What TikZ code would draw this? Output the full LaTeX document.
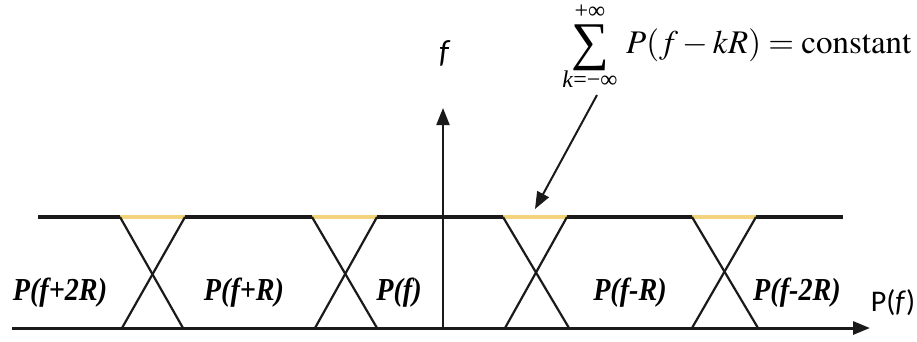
\documentclass[tikz,border=0pt]{standalone}
\usepackage{mathptmx}
\usepackage[no-math]{fontspec}
\setmainfont{Liberation Serif}
\newfontfamily\lblfont[FakeStretch=0.88]{Liberation Serif}
\newfontfamily\axfont{Carlito}
\usetikzlibrary{arrows.meta}
\definecolor{ylw}{HTML}{F3D47C}
\definecolor{ink}{HTML}{1A1A1A}
\tikzset{
  band/.style={line width=3.2pt, draw=ink},
  cross/.style={line width=2.2pt, draw=ink},
  hi/.style={line width=3.2pt, draw=ylw},
  axarrow/.style={line width=2pt, draw=ink, -{Triangle[length=17pt,width=13pt]}},
  plabel/.style={font=\lblfont\fontsize{32}{34}\selectfont\bfseries\itshape, inner sep=0pt, anchor=base},
  eqtext/.style={inner sep=0pt, font=\fontsize{33}{36}\selectfont},
  limtext/.style={inner sep=0pt, font=\fontsize{24}{26}\selectfont},
}
\begin{document}
\begin{tikzpicture}[x=1pt,y=-1pt]
\useasboundingbox (0,0) rectangle (917,341);
% band lines
\coordinate (tl) at (38,217);
\coordinate (tr) at (843,217);
\coordinate (bl) at (12,328);
\coordinate (br) at (870,328);
\draw[band] (tl) -- (tr);
% yellow overlaps and crosses
\foreach \a/\b/\c/\d [count=\i] in {120/185/122/183, 312/377/315/377, 503/567/505/569, 692/756/692/758}{
  \coordinate (ta\i) at (\a,217);
  \coordinate (tb\i) at (\b,217);
  \coordinate (ba\i) at (\c,328);
  \coordinate (bb\i) at (\d,328);
  \draw[hi] (ta\i) -- (tb\i);
  \draw[cross] (ta\i) -- (bb\i);
  \draw[cross] (tb\i) -- (ba\i);
}
\draw[axarrow, line width=3pt] (bl) -- (br);
% vertical axis
\coordinate (v0) at (443,328);
\coordinate (v1) at (443,108);
\draw[axarrow] (v0) -- (v1);
\node[font=\axfont\fontsize{32}{34}\selectfont\itshape, inner sep=0pt] (flab) at (444,53) {f};
% labels
\node[plabel] (l1) at (60,300) {P(f+2R)};
\node[plabel] (l2) at (244,300) {P(f+R)};
\node[plabel] (l3) at (399,300) {P(f)};
\node[plabel] (l4) at (630,300) {P(f-R)};
\node[plabel] (l5) at (797,300) {P(f-2R)};
\node[font=\axfont\fontsize{30}{32}\selectfont, inner sep=0pt, anchor=base] (pf) at (893,311) {P(\textit{f})};
% formula
\node[inner sep=0pt, font=\fontsize{53}{55}\selectfont] (sig) at (590,48) {∑};
\node[limtext, anchor=base] (up) at (590,18) {+∞};
\node[limtext, anchor=base] (lo) at (590,87) {\textit{k}=−∞};
\node[eqtext, anchor=base west] (eq) at (626,53) {$P(f-kR)=\mathrm{constant}$};
\coordinate (as) at (597,95);
\coordinate (ae) at (535,209);
\draw[axarrow] (as) -- (ae);
\end{tikzpicture}
\end{document}
